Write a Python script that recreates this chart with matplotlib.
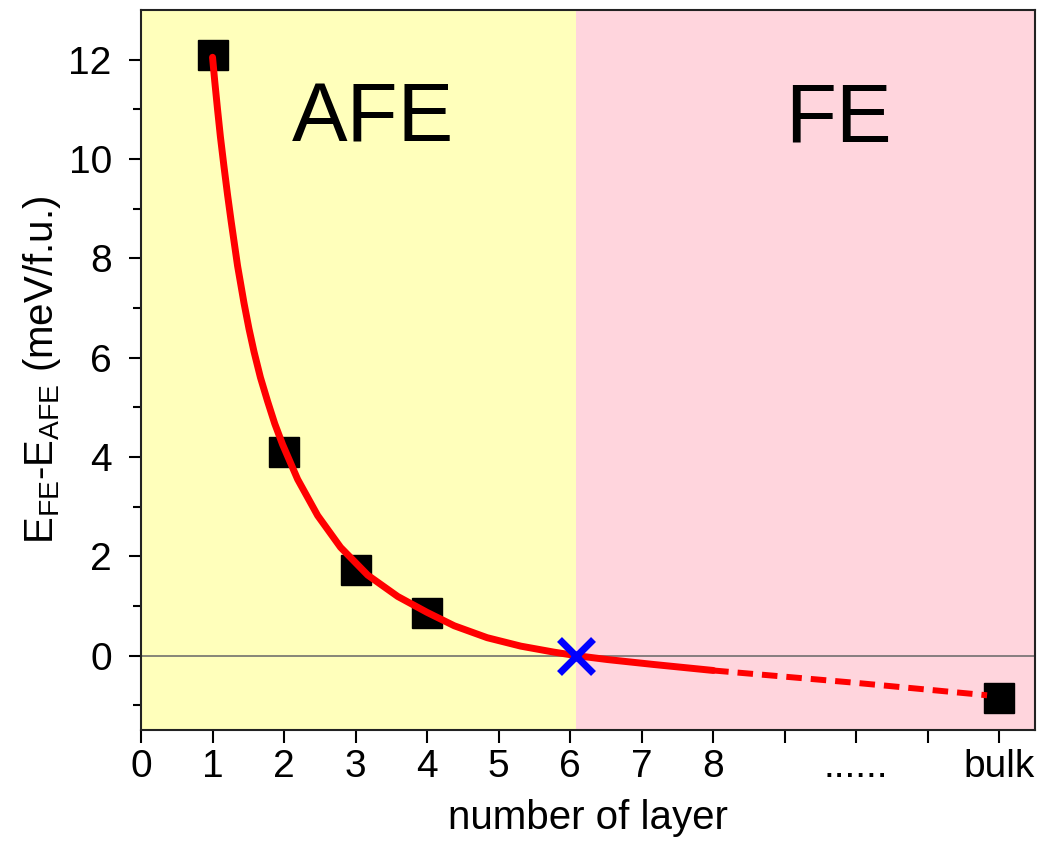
import matplotlib
matplotlib.use("Agg")
import matplotlib.pyplot as plt

plt.rcParams["font.family"] = ["Liberation Sans", "DejaVu Sans"]
plt.rcParams["mathtext.fontset"] = "custom"
plt.rcParams["mathtext.rm"] = "Liberation Sans"

# calculated energy differences (bulk drawn at x = 12)
layers = [1, 2, 3, 4, 12]
energy = [12.09, 4.11, 1.72, 0.86, -0.86]

# fitted curve
fit_x = [1.0, 1.03, 1.07, 1.11, 1.16, 1.21, 1.26, 1.35, 1.44, 1.51, 1.58, 1.67,
         1.77, 1.87, 1.98, 2.19, 2.47, 2.79, 3.17, 3.59, 4.0, 4.38, 4.84,
         5.31, 5.77, 6.08, 6.52, 7.17, 8.0]
fit_y = [12.05, 11.58, 11.0, 10.45, 9.85, 9.28, 8.75, 7.85, 7.1, 6.58, 6.12, 5.6,
         5.12, 4.67, 4.25, 3.55, 2.82, 2.18, 1.62, 1.19, 0.87, 0.6, 0.36,
         0.19, 0.07, 0.0, -0.08, -0.18, -0.30]

# extrapolation towards bulk
extra_x = [8.0, 10.0, 11.83]
extra_y = [-0.30, -0.55, -0.80]

# critical thickness
crit_x = 6.08
crit_y = 0.0

tick_pos = list(range(13))
tick_labels = ["0", "1", "2", "3", "4", "5", "6", "7", "8", "", "......", "", "bulk"]

fig = plt.figure(figsize=(10.5, 8.43), dpi=100)
ax = fig.add_subplot(111)
fig.subplots_adjust(left=0.1343, right=0.9857, top=0.988, bottom=0.134)

ax.set_xlim(0, 12.5)
ax.set_ylim(-1.5, 13)

# phase regions
ax.axvspan(0, crit_x, color="#FFFFBB", lw=0, zorder=0)
ax.axvspan(crit_x, 12.5, color="#FFD5DD", lw=0, zorder=0)
ax.axhline(0, color="#666666", lw=1.1, zorder=1)

ax.plot(layers, energy, "s", color="black", markersize=22, zorder=2)
ax.plot(fit_x, fit_y, "-", color="red", lw=5, solid_capstyle="round",
        solid_joinstyle="round", zorder=3)
ax.plot(extra_x, extra_y, color="red", lw=4.3, dashes=(2.6, 1.5), zorder=3)
ax.plot([crit_x], [crit_y], "x", color="blue", markersize=24, mew=5, zorder=4)

ax.text(3.25, 10.8, "AFE", fontsize=60, ha="center", va="center")
ax.text(9.75, 10.8, "FE", fontsize=60, ha="center", va="center")

ax.set_xticks(tick_pos)
ax.set_xticklabels(tick_labels)
ax.set_yticks([0, 2, 4, 6, 8, 10, 12])
ax.set_yticks([-1, 1, 3, 5, 7, 9, 11], minor=True)
ax.tick_params(axis="both", which="major", direction="out", length=9, width=1.5,
               labelsize=28)
ax.tick_params(axis="x", which="major", pad=5)
ax.tick_params(axis="y", which="major", pad=12)
ax.tick_params(axis="y", which="minor", direction="out", length=5.5, width=1.5)

for side in ["left", "bottom", "top", "right"]:
    ax.spines[side].set_linewidth(1.5)
    ax.spines[side].set_color("#222222")

ax.set_xlabel("number of layer", fontsize=29, labelpad=10)
ax.set_ylabel(r"E$_{\mathregular{FE}}$-E$_{\mathregular{AFE}}$ (meV/f.u.)", fontsize=29, labelpad=4)

fig.savefig("out.png", dpi=100)
